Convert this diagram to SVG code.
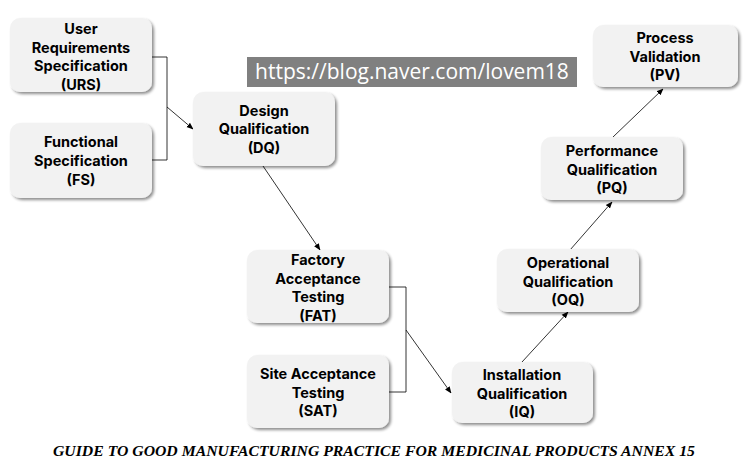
<svg xmlns="http://www.w3.org/2000/svg" width="743" height="460" viewBox="0 0 743 460">
<style>
.box{fill:#f2f2f2;filter:url(#sh)}
.t{font-family:Inter,"Noto Sans",sans-serif;font-weight:bold;font-size:14.5px;fill:#000;text-anchor:middle}
.c{fill:none;stroke:#000;stroke-width:0.8}
.a{fill:none;stroke:#000;stroke-width:0.8;marker-end:url(#ar)}
</style>
<defs>
<filter id="sh" x="-10%" y="-10%" width="125%" height="130%">
<feGaussianBlur in="SourceAlpha" stdDeviation="1.5"/>
<feOffset dx="1.5" dy="2" result="o"/>
<feComponentTransfer><feFuncA type="linear" slope="0.45"/></feComponentTransfer>
<feMerge><feMergeNode/><feMergeNode in="SourceGraphic"/></feMerge>
</filter>
<marker id="ar" viewBox="0 0 10 10" refX="9" refY="5" markerWidth="7" markerHeight="7" orient="auto" markerUnits="userSpaceOnUse">
<path d="M0,1 L10,5 L0,9 z" fill="#000"/>
</marker>
</defs>
<g id="watermark">
<rect x="247" y="57" width="330" height="30" fill="#808080"/>
<text x="412" y="79" font-family="'Open Sans','Noto Sans',sans-serif" font-size="21" fill="#fff" text-anchor="middle">https://blog.naver.com/lovem18</text>
</g>
<g id="connectors">
<polyline class="c" points="152,57 167,57 167,160 152,160"/>
<line class="a" x1="167" y1="107" x2="193" y2="129"/>
<line class="a" x1="263" y1="166" x2="320" y2="250"/>
<polyline class="c" points="389,287 406,287 406,392 389,392"/>
<line class="a" x1="406" y1="330" x2="451" y2="393"/>
<line class="a" x1="522" y1="362" x2="568" y2="312"/>
<line class="a" x1="570" y1="250" x2="612" y2="202"/>
<line class="a" x1="613" y1="137" x2="663" y2="89"/>
</g>
<g id="urs">
<rect class="box" x="10" y="18" width="142" height="74" rx="10"/>
<text class="t" x="81" y="34">User</text>
<text class="t" x="81" y="53">Requirements</text>
<text class="t" x="81" y="71">Specification</text>
<text class="t" x="81" y="90">(URS)</text>
</g>
<g id="fs">
<rect class="box" x="10" y="123" width="142" height="75" rx="10"/>
<text class="t" x="81" y="147">Functional</text>
<text class="t" x="81" y="166">Specification</text>
<text class="t" x="81" y="185">(FS)</text>
</g>
<g id="dq">
<rect class="box" x="193" y="92" width="142" height="74" rx="10"/>
<text class="t" x="264" y="116">Design</text>
<text class="t" x="264" y="134">Qualification</text>
<text class="t" x="264" y="153">(DQ)</text>
</g>
<g id="fat">
<rect class="box" x="247" y="250" width="142" height="73" rx="10"/>
<text class="t" x="318" y="265">Factory</text>
<text class="t" x="318" y="284">Acceptance</text>
<text class="t" x="318" y="302">Testing</text>
<text class="t" x="318" y="321">(FAT)</text>
</g>
<g id="sat">
<rect class="box" x="247" y="355" width="142" height="73" rx="10"/>
<text class="t" x="318" y="379">Site Acceptance</text>
<text class="t" x="318" y="398">Testing</text>
<text class="t" x="318" y="416">(SAT)</text>
</g>
<g id="iq">
<rect class="box" x="452" y="362" width="141" height="61" rx="10"/>
<text class="t" x="522" y="380">Installation</text>
<text class="t" x="522" y="399">Qualification</text>
<text class="t" x="522" y="417">(IQ)</text>
</g>
<g id="oq">
<rect class="box" x="497" y="249" width="142" height="63" rx="10"/>
<text class="t" x="568" y="268">Operational</text>
<text class="t" x="568" y="287">Qualification</text>
<text class="t" x="568" y="305">(OQ)</text>
</g>
<g id="pq">
<rect class="box" x="541" y="137" width="142" height="63" rx="10"/>
<text class="t" x="612" y="156">Performance</text>
<text class="t" x="612" y="175">Qualification</text>
<text class="t" x="612" y="193">(PQ)</text>
</g>
<g id="pv">
<rect class="box" x="593" y="25" width="145" height="62" rx="10"/>
<text class="t" x="665" y="43">Process</text>
<text class="t" x="665" y="62">Validation</text>
<text class="t" x="665" y="80">(PV)</text>
</g>
<text x="53" y="456" textLength="642" lengthAdjust="spacingAndGlyphs" font-family="'Liberation Serif',serif" font-weight="bold" font-style="italic" font-size="15.5" fill="#000">GUIDE TO GOOD MANUFACTURING PRACTICE FOR MEDICINAL PRODUCTS ANNEX 15</text>
</svg>
